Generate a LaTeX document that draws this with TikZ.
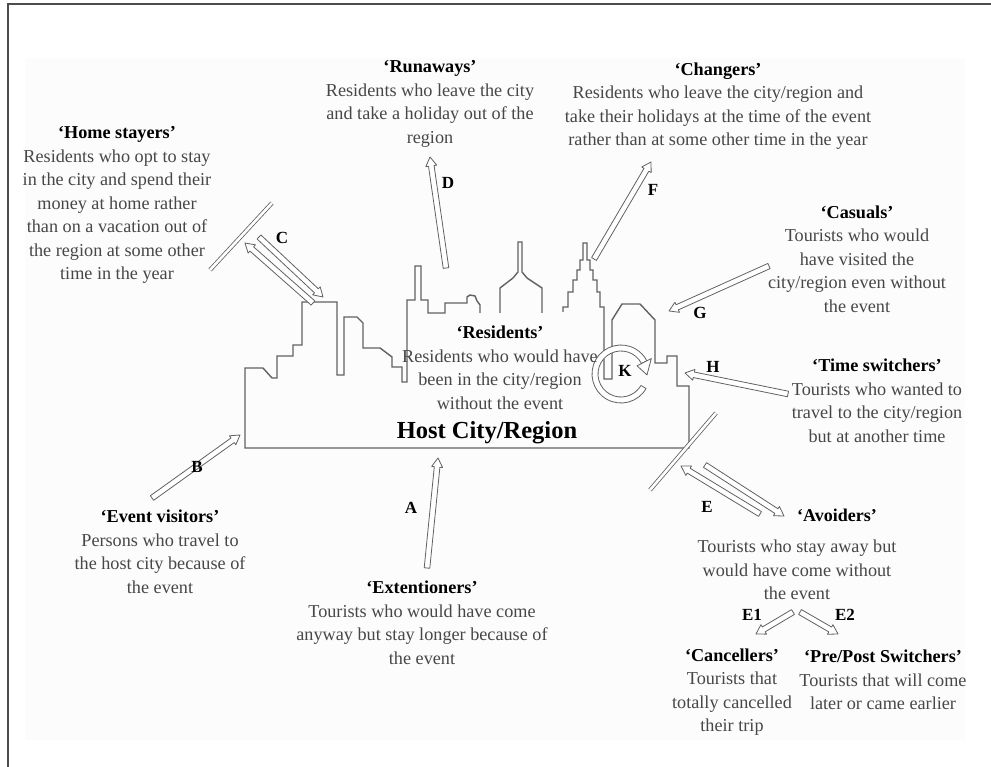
\documentclass[tikz,border=0pt]{standalone}
\usepackage{fontspec}
\setmainfont{Liberation Serif}
\usetikzlibrary{calc}
\newcommand\arrSW{2.8pt}
\newcommand\arrHW{5.5pt}
\newcommand\arrHL{9pt}
\newcommand\hollowarrow[2]{%
  \path[hollow] let \p1=(#1), \p2=(#2),
     \n1={atan2(\y2-\y1,\x2-\x1)},
     \n2={veclen(\x2-\x1,\y2-\y1)-\arrHL} in
     ($(\p1)+(\n1+90:\arrSW)$) --
     ($(\p1)+(\n1:\n2)+(\n1+90:\arrSW)$) --
     ($(\p1)+(\n1:\n2)+(\n1+90:\arrHW)$) --
     (\p2) --
     ($(\p1)+(\n1:\n2)+(\n1-90:\arrHW)$) --
     ($(\p1)+(\n1:\n2)+(\n1-90:\arrSW)$) --
     ($(\p1)+(\n1-90:\arrSW)$) -- cycle;}
\begin{document}
\begin{tikzpicture}[x=1pt,y=-1pt,
  hollow/.style={draw=black!62, fill=white, line width=0.8pt, line join=round},
  sky/.style={draw=black!62, line width=1.4pt, line join=miter},
  barrier/.style={draw=black!62, line width=0.8pt, double=white, double distance=2.6pt},
  desc/.style={align=center, text=black!72, font=\fontsize{18.2}{23.5}\selectfont, inner sep=0pt},
  ttl/.style={align=center, text=black, font=\bfseries\fontsize{18}{23.5}\selectfont, inner sep=0pt},
  lbl/.style={text=black, font=\bfseries\fontsize{17}{20}\selectfont, inner sep=0pt}]
\useasboundingbox (0,0) rectangle (991,767);
\fill[white] (0,0) rectangle (991,767);
\fill[black!1] (25,58) rectangle (965,740);
% frame
\draw[black!70, line width=1.2pt] (8,767) -- (8,4) -- (991,4);

% skyline
\draw[sky] (480,313) -- (480,305) -- (477,301) -- (475,296) -- (470,295) -- (467,297) -- (467,303)
  -- (445,303) -- (445,313) -- (428,313) -- (428,300) -- (421,300) -- (421,266) -- (415,266)
  -- (415,300) -- (407,300) -- (407,382) -- (402,382) -- (402,367) -- (392,367) -- (392,357)
  -- (380,348) -- (363,348) -- (363,323) -- (357,317) -- (344,317) -- (344,375) -- (337,375)
  -- (337,302) -- (302,302) -- (302,345) -- (293,345) -- (293,356) -- (277,356) -- (277,378)
  -- (272,378) -- (263,368) -- (245,368) -- (245,448) -- (689,448) -- (689,386) -- (677,386)
  -- (677,356) -- (667,356) -- (667,363) -- (655,363) -- (655,320) -- (640,304) -- (622,304)
  -- (612,320) -- (612,379) -- (604,379) -- (604,307) -- (600,307) -- (600,292) -- (597,292)
  -- (597,280) -- (593,280) -- (593,270) -- (590,270) -- (590,260) -- (587,260) -- (587,243)
  -- (583,243) -- (583,260) -- (580,260) -- (580,270) -- (577,270) -- (577,280) -- (573,280)
  -- (573,292) -- (568,292) -- (568,307) -- (563,307) -- (563,312);
\draw[sky] (500,313) -- (500,288) -- (513,278) -- (518,272) -- (518,242) -- (522,242)
  -- (522,272) -- (527,278) -- (542,288) -- (542,313);

% barriers
\coordinate (cb1) at (210,270);
\coordinate (cb2) at (272,203);
\coordinate (eb1) at (650,490);
\coordinate (eb2) at (716,413);
\draw[barrier] (cb1) -- (cb2);
\draw[barrier] (eb1) -- (eb2);

% arrow end points
\coordinate (A1) at (427,568);  \coordinate (A2) at (438,458);
\coordinate (B1) at (152,498);  \coordinate (B2) at (240,435);
\coordinate (C1) at (313,303);  \coordinate (C2) at (245,243);
\coordinate (C3) at (259,237);  \coordinate (C4) at (323,297);
\coordinate (D1) at (446,268);  \coordinate (D2) at (430,157);
\coordinate (F1) at (594,259);  \coordinate (F2) at (651,162);
\coordinate (G1) at (769,266);  \coordinate (G2) at (669,311);
\coordinate (H1) at (788,394);  \coordinate (H2) at (685,373);
\coordinate (E1a) at (760,514); \coordinate (E2a) at (681,466);
\coordinate (E3a) at (705,465); \coordinate (E4a) at (784,516);
\coordinate (Ea1) at (793,612); \coordinate (Ea2) at (756,634);
\coordinate (Eb1) at (800,612); \coordinate (Eb2) at (838,634);

\hollowarrow{A1}{A2}
\hollowarrow{B1}{B2}
\hollowarrow{C1}{C2}
\hollowarrow{C3}{C4}
\hollowarrow{D1}{D2}
\hollowarrow{F1}{F2}
\hollowarrow{G1}{G2}
\hollowarrow{H1}{H2}
\hollowarrow{E1a}{E2a}
\hollowarrow{E3a}{E4a}
\hollowarrow{Ea1}{Ea2}
\hollowarrow{Eb1}{Eb2}

% circular arrow K
\coordinate (Kc) at (621,374);
\path[hollow] ($(Kc)+(-30:29pt)$) arc[start angle=-30, end angle=-333, radius=29pt]
   -- ($(Kc)+(-333:23pt)$) arc[start angle=-333, end angle=-30, radius=23pt] -- cycle;
\path[hollow] ($(Kc)+(-333:18pt)$) -- ($(Kc)+(-333:34pt)$) -- ($(Kc)+(-362:26pt)$) -- cycle;

% labels
\node[lbl] (lA) at (411,508) {A};
\node[lbl] (lB) at (197,467) {B};
\node[lbl] (lC) at (282,238) {C};
\node[lbl] (lD) at (448,183) {D};
\node[lbl] (lE) at (707,507) {E};
\node[lbl] (lF) at (653,190) {F};
\node[lbl] (lG) at (700,313) {G};
\node[lbl] (lH) at (713,367) {H};
\node[lbl] (lK) at (625,371) {K};
\node[lbl] (lE1) at (752,615) {E1};
\node[lbl] (lE2) at (845,615) {E2};

% texts
\node[desc] (home) at (117,205) {\textcolor{black}{\bfseries `Home stayers'}\\Residents who opt to stay\\in the city and spend their\\money at home rather\\than on a vacation out of\\the region at some other\\time in the year};
\node[desc] (run) at (430,104) {\textcolor{black}{\bfseries `Runaways'}\\Residents who leave the city\\and take a holiday out of the\\region};
\node[desc] (chg) at (718,106) {\textcolor{black}{\bfseries `Changers'}\\Residents who leave the city/region and\\take their holidays at the time of the event\\rather than at some other time in the year};
\node[desc] (cas) at (857,259) {\textcolor{black}{\bfseries `Casuals'}\\Tourists who would\\have visited the\\city/region even without\\the event};
\node[desc] (tsw) at (877,401) {\textcolor{black}{\bfseries `Time switchers'}\\Tourists who wanted to\\travel to the city/region\\but at another time};
\node[desc] (res) at (500,368) {\textcolor{black}{\bfseries `Residents'}\\Residents who would have\\been in the city/region\\without the event};
\node[inner sep=0pt, font=\bfseries\fontsize{24.5}{28}\selectfont] (host) at (487,433) {Host City/Region};
\node[desc] (evv) at (160,552) {\textcolor{black}{\bfseries `Event visitors'}\\Persons who travel to\\the host city because of\\the event};
\node[desc] (ext) at (422,623) {\textcolor{black}{\bfseries `Extentioners'}\\Tourists who would have come\\anyway but stay longer because of\\the event};
\node[ttl] (avt) at (837,515) {`Avoiders'};
\node[desc] (avd) at (797,570) {Tourists who stay away but\\would have come without\\the event};
\node[desc] (can) at (732,692) {\textcolor{black}{\bfseries `Cancellers'}\\Tourists that\\totally cancelled\\their trip};
\node[desc] (pps) at (883,680) {\textcolor{black}{\bfseries `Pre/Post Switchers'}\\Tourists that will come\\later or came earlier};
\end{tikzpicture}
\end{document}
